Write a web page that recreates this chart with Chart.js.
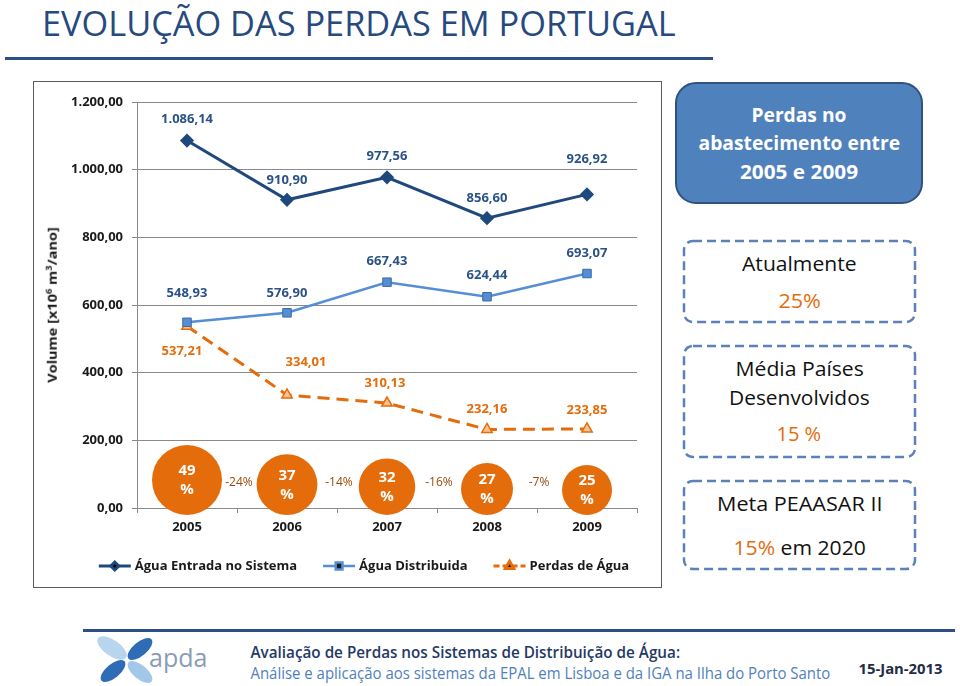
<!DOCTYPE html>
<html lang="pt">
<head>
<meta charset="utf-8">
<title>Evolução das perdas em Portugal</title>
<script src="https://cdn.jsdelivr.net/npm/chart.js@4.4.0/dist/chart.umd.min.js"></script>
<style>
  html, body { margin: 0; padding: 0; background: #fff; }
  body { width: 960px; height: 686px; position: relative; overflow: hidden; font-family: "Open Sans", sans-serif; }
  .txt { position: absolute; white-space: nowrap; line-height: 1.2; }
  .txt sup { font-size: 0.65em; line-height: 0; }
  #fundo { position: absolute; left: 0; top: 0; }
  #moldura { position: absolute; left: 33px; top: 81px; width: 627px; height: 505px; border: 1px solid #5a5a5a; }
  #grafico { position: absolute; left: 34px; top: 82px; }
</style>
</head>
<body>

<svg id="fundo" width="960" height="686">
  <!-- linhas do slide -->
  <rect x="5" y="57" width="708" height="3" fill="#2c4f86"/>
  <rect x="83" y="629" width="872" height="3" fill="#2c4f86"/>
  <!-- caixas da direita -->
  <rect x="676" y="83" width="246" height="120" rx="20" fill="#4f81bd" stroke="#2f5280" stroke-width="2"/>
  <rect x="684" y="241" width="231" height="81" rx="9" fill="none" stroke="#5b82b8" stroke-width="2.5" stroke-dasharray="9 5"/>
  <rect x="684" y="346" width="231" height="111" rx="9" fill="none" stroke="#5b82b8" stroke-width="2.5" stroke-dasharray="9 5"/>
  <rect x="684" y="481" width="231" height="88" rx="9" fill="none" stroke="#5b82b8" stroke-width="2.5" stroke-dasharray="9 5"/>
  <!-- logo apda -->
  <g>
    <ellipse cx="112" cy="648" rx="17" ry="8" transform="rotate(35 112 648)" fill="#b9d5ee"/>
    <ellipse cx="140" cy="649" rx="15" ry="7" transform="rotate(-40 140 649)" fill="#2f6cb6"/>
    <ellipse cx="113" cy="671" rx="15" ry="7" transform="rotate(-40 113 671)" fill="#2f6cb6"/>
    <ellipse cx="140" cy="672" rx="15" ry="7" transform="rotate(40 140 672)" fill="#a3c7e8"/>
    <text x="149" y="667" font-family="Open Sans, sans-serif" font-size="25" fill="#8a9cb3">apda</text>
  </g>
</svg>

<div id="moldura"></div>
<canvas id="grafico" width="611" height="505"></canvas>

<script>
// dados do gráfico
const anos = ['2005', '2006', '2007', '2008', '2009'];
const aguaEntrada = [1086.14, 910.90, 977.56, 856.60, 926.92];
const aguaDistribuida = [548.93, 576.90, 667.43, 624.44, 693.07];
const perdasAgua = [537.21, 334.01, 310.13, 232.16, 233.85];
const perdasPct = [49, 37, 32, 27, 25];          // % de perdas (círculos)
const variacaoPct = ['-24%', '-14%', '-16%', '-7%']; // variação entre anos
const yTicks = [0, 200, 400, 600, 800, 1000, 1200];

// deslocamento dos rótulos de valor (dx, dy) em px
const rotuloEntrada = [[0, -21], [0, -20], [0, -21], [0, -20], [0, -35]];
const rotuloDistrib = [[0, -29], [0, -20], [0, -21], [0, -21], [0, -20]];
const rotuloPerdas = [[-5, 25], [19, -33], [-2, -20], [0, -20], [0, -19]];

const LARANJA = '#e46c0a';
const AZUL_ESC = '#1f497d';
const AZUL_CLA = '#558ed5';

// formato português: 1.086,14
function fmt(v) {
    const partes = v.toFixed(2).split('.');
    return partes[0].replace(/\B(?=(\d{3})+(?!\d))/g, '.') + ',' + partes[1];
}

// --- textos do slide (ajustados à largura do original) ---
function colocar(t) {
    const el = document.createElement('div');
    el.className = 'txt';
    el.innerHTML = t.html;
    el.style.font = (t.weight || 400) + ' ' + t.size + 'px "Open Sans", sans-serif';
    el.style.color = t.color;
    document.body.appendChild(el);
    const w = el.offsetWidth, h = el.offsetHeight;
    el.style.left = (t.cx - w / 2) + 'px';
    el.style.top = (t.cy - h / 2) + 'px';
    el.style.transform = (t.rot ? 'rotate(' + t.rot + 'deg) ' : '') + 'scaleX(' + (t.w / w) + ')';
}

const laranjaSpan = (s) => '<span style="color:' + LARANJA + '">' + s + '</span>';

[
    { html: 'EVOLUÇÃO DAS PERDAS EM PORTUGAL', cx: 359, cy: 23, w: 634, size: 34, color: '#264a7e' },
    { html: 'Perdas no', cx: 799, cy: 115, w: 95, size: 19, weight: 700, color: '#fff' },
    { html: 'abastecimento entre', cx: 799, cy: 143, w: 202, size: 19, weight: 700, color: '#fff' },
    { html: '2005 e 2009', cx: 799, cy: 172, w: 118, size: 19, weight: 700, color: '#fff' },
    { html: 'Atualmente', cx: 799, cy: 263, w: 115, size: 20, color: '#111' },
    { html: '25%', cx: 799, cy: 300, w: 42, size: 20, color: LARANJA },
    { html: 'Média Países', cx: 799, cy: 368, w: 128, size: 20, color: '#111' },
    { html: 'Desenvolvidos', cx: 799, cy: 397, w: 141, size: 20, color: '#111' },
    { html: '15 %', cx: 799, cy: 433, w: 45, size: 20, color: LARANJA },
    { html: 'Meta PEAASAR II', cx: 799, cy: 503, w: 165, size: 20, color: '#111' },
    { html: laranjaSpan('15%') + ' em 2020', cx: 799, cy: 547, w: 132, size: 20, color: '#111' },
    { html: 'Avaliação de Perdas nos Sistemas de Distribuição de Água:', cx: 465, cy: 652, w: 430, size: 16, weight: 600, color: '#1f3a64' },
    { html: 'Análise e aplicação aos sistemas da EPAL em Lisboa e da IGA na Ilha do Porto Santo', cx: 540, cy: 673, w: 580, size: 16, weight: 400, color: '#4f81bd' },
    { html: '15-Jan-2013', cx: 900, cy: 668, w: 84, size: 15, weight: 700, color: '#1f2d46' },
    { html: 'Volume [x10<sup>6</sup> m<sup>3</sup>/ano]', cx: 51, cy: 305, w: 155, size: 13, weight: 700, color: '#1a1a1a', rot: -90 }
].forEach(colocar);

Chart.defaults.font.family = '"Open Sans", sans-serif';

// marcadores da legenda: linha + símbolo
function desenhaMarca(ctx, ds, x, y, w) {
    ctx.save();
    ctx.strokeStyle = ds.borderColor;
    ctx.lineWidth = ds.borderWidth;
    ctx.setLineDash(ds.borderDash ? [6, 3] : []);
    ctx.beginPath();
    ctx.moveTo(x, y);
    ctx.lineTo(x + w, y);
    ctx.stroke();
    ctx.setLineDash([]);
    Chart.helpers.drawPoint(ctx, {
        pointStyle: ds.pointStyle, radius: ds.pointRadius * 0.8, borderWidth: 1
    }, x + w / 2, y);
    ctx.restore();
}

const pluginExtras = {
    id: 'extras',
    afterDatasetsDraw(chart) {
        const ctx = chart.ctx;
        const xs = chart.scales.x, ys = chart.scales.y;
        const y0 = ys.getPixelForValue(0);

        // círculos com % de perdas
        perdasPct.forEach((p, i) => {
            const r = 5 * Math.sqrt(p);
            const cx = xs.getPixelForValue(i);
            const cy = y0 + 7 - r;
            ctx.save();
            ctx.fillStyle = LARANJA;
            ctx.beginPath();
            ctx.arc(cx, cy, r, 0, Math.PI * 2);
            ctx.fill();
            ctx.fillStyle = '#fff';
            ctx.font = 'bold 15px "Open Sans", sans-serif';
            ctx.textAlign = 'center';
            ctx.textBaseline = 'middle';
            ctx.fillText(String(p), cx, cy - 9);
            ctx.fillText('%', cx, cy + 10);
            ctx.restore();
        });

        // variação entre anos
        ctx.save();
        ctx.fillStyle = '#9a4a0c';
        ctx.font = '12px "Open Sans", sans-serif';
        ctx.textAlign = 'center';
        ctx.textBaseline = 'middle';
        variacaoPct.forEach((t, i) => {
            const cx = (xs.getPixelForValue(i) + xs.getPixelForValue(i + 1)) / 2 + 2;
            ctx.fillText(t, cx, y0 - 25);
        });
        ctx.restore();

        // rótulos de valor
        const desloc = [rotuloEntrada, rotuloDistrib, rotuloPerdas];
        const cores = ['#2a5286', '#2a5286', LARANJA];
        chart.data.datasets.forEach((ds, d) => {
            const meta = chart.getDatasetMeta(d);
            ctx.save();
            ctx.fillStyle = cores[d];
            ctx.font = 'bold 13px "Open Sans", sans-serif';
            ctx.textAlign = 'center';
            ctx.textBaseline = 'middle';
            meta.data.forEach((pt, i) => {
                ctx.fillText(fmt(ds.data[i]), pt.x + desloc[d][i][0], pt.y + desloc[d][i][1]);
            });
            ctx.restore();
        });
    },
    afterDraw(chart) {
        // legenda
        const ctx = chart.ctx;
        const larg = 32, gap = 4, esp = 26;
        ctx.save();
        ctx.font = 'bold 13px "Open Sans", sans-serif';
        const itens = chart.data.datasets.map(ds => ({ ds, w: larg + gap + ctx.measureText(ds.label).width }));
        const total = itens.reduce((s, it) => s + it.w, 0) + esp * (itens.length - 1);
        let x = 330 - total / 2;
        const y = chart.height - 21;
        itens.forEach(it => {
            desenhaMarca(ctx, it.ds, x, y, larg);
            ctx.fillStyle = '#1a1a1a';
            ctx.textAlign = 'left';
            ctx.textBaseline = 'middle';
            ctx.fillText(it.ds.label, x + larg + gap, y);
            x += it.w + esp;
        });
        ctx.restore();
    }
};

new Chart(document.getElementById('grafico'), {
    type: 'line',
    data: {
        labels: anos,
        datasets: [
            {
                label: 'Água Entrada no Sistema',
                data: aguaEntrada,
                borderColor: AZUL_ESC,
                backgroundColor: AZUL_ESC,
                borderWidth: 3,
                pointStyle: 'rectRot',
                pointRadius: 5,
                pointBackgroundColor: AZUL_ESC,
                pointBorderColor: AZUL_ESC,
                tension: 0
            },
            {
                label: 'Água Distribuida',
                data: aguaDistribuida,
                borderColor: AZUL_CLA,
                backgroundColor: AZUL_CLA,
                borderWidth: 2.5,
                pointStyle: 'rect',
                pointRadius: 6,
                pointBackgroundColor: AZUL_CLA,
                pointBorderColor: '#3b69a5',
                pointBorderWidth: 1,
                tension: 0
            },
            {
                label: 'Perdas de Água',
                data: perdasAgua,
                borderColor: LARANJA,
                backgroundColor: '#fac090',
                borderWidth: 3,
                borderDash: [12, 7],
                pointStyle: 'triangle',
                pointRadius: 6,
                pointBackgroundColor: '#fac090',
                pointBorderColor: LARANJA,
                pointBorderWidth: 1.5,
                tension: 0
            }
        ]
    },
    options: {
        responsive: false,
        animation: false,
        layout: { padding: { left: 0, right: 5, top: 20, bottom: 45 } },
        plugins: {
            legend: { display: false },
            tooltip: { enabled: false }
        },
        scales: {
            x: {
                offset: true,
                grid: { offset: true, drawOnChartArea: false, tickLength: 5, color: '#8a8a8a' },
                border: { color: '#8a8a8a' },
                ticks: { font: { size: 13, weight: 'bold' }, color: '#1a1a1a', padding: 6 },
                afterFit: (s) => { s.height = 34; }
            },
            y: {
                min: 0,
                max: 1200,
                afterBuildTicks: (s) => { s.ticks = yTicks.map(v => ({ value: v })); },
                grid: { color: '#8a8a8a', tickLength: 5 },
                border: { color: '#8a8a8a' },
                ticks: {
                    font: { size: 13, weight: 'bold' },
                    color: '#1a1a1a',
                    padding: 9,
                    callback: (v) => fmt(v)
                },
                afterFit: (s) => { s.width = 103; }
            }
        }
    },
    plugins: [pluginExtras]
});
</script>
</body>
</html>
